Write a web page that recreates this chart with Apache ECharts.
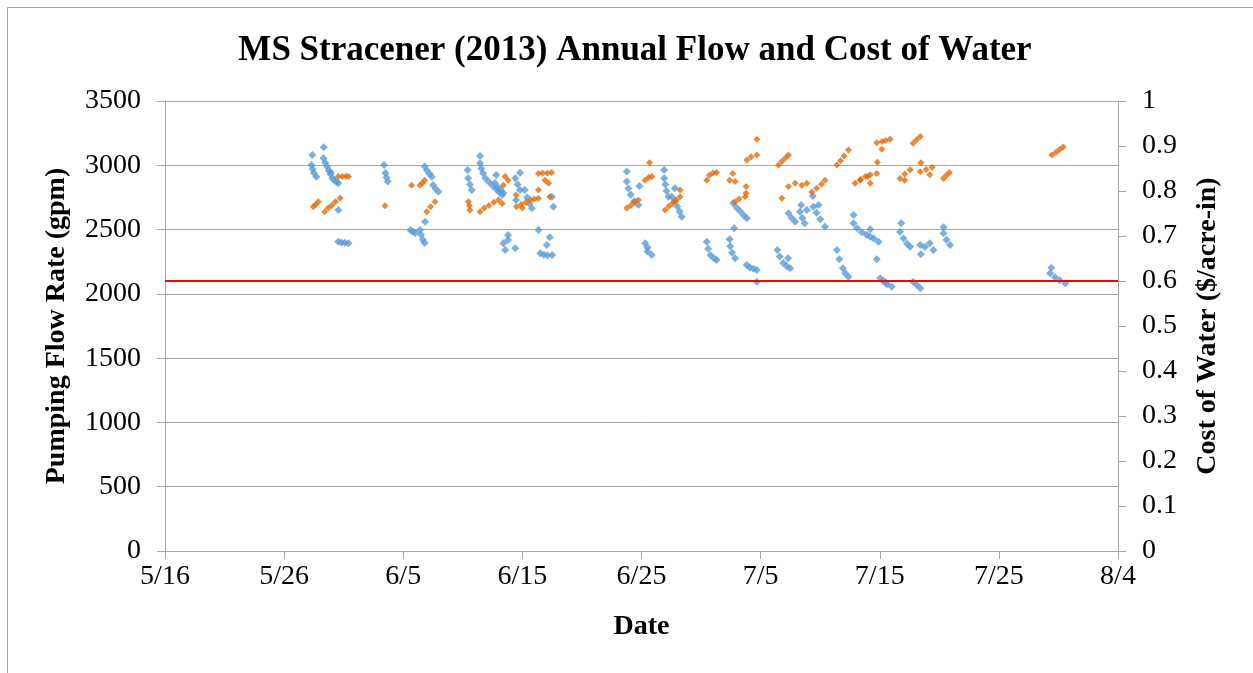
<!DOCTYPE html>
<html>
<head>
<meta charset="utf-8">
<title>MS Stracener (2013) Annual Flow and Cost of Water</title>
<script src="https://cdn.jsdelivr.net/npm/echarts@6/dist/echarts.min.js"></script>
<style>
  html, body { margin: 0; padding: 0; background: #fff; }
  #chart { width: 1253px; height: 673px; }
</style>
</head>
<body>
<div id="chart"></div>
<script>
// x values are days after 5/16/2013
const START = new Date(2013, 4, 16);
const X_MIN = 0, X_MAX = 80, X_STEP = 10;   // 5/16 .. 8/4

// pumping flow rate (gpm), [day, gpm]
const flowRate = [
  [12.37,3080],[13.32,3140],[12.3,3002],[12.4,2970],[12.5,2940],[12.7,2911],
  [13.3,3054],[13.45,3020],[13.6,2990],[13.75,2960],[13.9,2930],[14.05,2900],[14.2,2885],[14.4,2870],[14.55,2860],[13.9,2945],
  [14.55,2652],[14.55,2405],[14.8,2400],[15.1,2398],[15.4,2393],
  [18.39,3002],[18.5,2940],[18.6,2905],[18.7,2873],
  [21.8,2990],[22.0,2960],[22.2,2935],[22.4,2911],[22.5,2847],[22.7,2820],[22.95,2795],
  [21.83,2561],[20.6,2497],[20.8,2485],[21.0,2473],[21.4,2497],[21.5,2460],[21.65,2420],[21.8,2395],
  [26.45,3072],[26.45,3015],[26.55,2975],[26.7,2938],[26.9,2900],[27.2,2870],[27.5,2840],[27.8,2815],[28.0,2795],[28.3,2769],
  [25.4,2963],[25.45,2899],[25.6,2850],[25.75,2808],
  [27.8,2925],[27.7,2862],[27.95,2830],[28.2,2805],[28.4,2785],
  [29.8,2942],[29.4,2900],[29.6,2850],[29.8,2808],[30.2,2808],[30.4,2750],[30.6,2700],[30.8,2665],[29.47,2730],
  [31.35,2497],[32.47,2756],[32.6,2678],
  [28.8,2458],[28.8,2419],[28.4,2393],[28.55,2341],[29.4,2354],
  [32.3,2440],[32.05,2380],[31.5,2315],[31.8,2305],[32.1,2300],[32.5,2302],
  [38.76,2951],[38.76,2873],[38.9,2820],[39.1,2770],[39.4,2720],[39.74,2691],[39.82,2839],
  [40.3,2393],[40.5,2360],[40.86,2302],[40.5,2330],
  [41.9,2963],[41.9,2899],[42.0,2850],[42.1,2800],[42.26,2756],
  [42.54,2756],[42.8,2720],[43.0,2680],[43.2,2640],[43.38,2600],[42.8,2821],
  [45.48,2406],[45.6,2350],[45.8,2300],[46.1,2275],[46.3,2263],
  [47.4,2424],[47.45,2370],[47.6,2320],[47.86,2277],
  [47.7,2704],[48.0,2670],[48.3,2640],[48.6,2610],[48.84,2588],[47.78,2510],
  [48.84,2224],[49.1,2205],[49.4,2195],[49.68,2185],[49.68,2094],
  [51.4,2341],[51.6,2290],[51.9,2240],[52.2,2215],[52.48,2199],[52.3,2277],
  [52.34,2626],[52.6,2590],[52.9,2561],
  [53.4,2691],[53.3,2639],[53.5,2590],[53.7,2549],[53.88,2652],
  [54.38,2761],[54.43,2678],[54.7,2630],[55.0,2580],[55.4,2522],[54.86,2691],
  [56.4,2341],[56.6,2270],[56.9,2200],[57.1,2160],[57.37,2133],
  [57.8,2613],[57.8,2549],[58.1,2510],[58.5,2480],[58.9,2460],[59.2,2445],[59.5,2430],[59.9,2406],[59.2,2502],
  [59.75,2269],
  [60.03,2121],[60.3,2100],[60.5,2090],[60.6,2075],[61.0,2056],
  [61.8,2549],[61.7,2483],[62.0,2430],[62.3,2390],[62.55,2367],
  [63.4,2380],[63.8,2365],[64.2,2393],[64.5,2341],[63.45,2308],
  [62.8,2094],[63.1,2070],[63.4,2043],
  [65.35,2518],[65.35,2471],[65.6,2420],[65.9,2380],
  [74.4,2204],[74.3,2160],[74.7,2130],[75.1,2105],[75.57,2082]
];

// cost of water ($/acre-in), [day, cost]
const waterCost = [
  [12.45,0.765],[12.65,0.77],[12.87,0.776],
  [13.4,0.754],[13.7,0.762],[14.0,0.768],[14.3,0.776],[14.7,0.784],
  [14.55,0.832],[14.9,0.832],[15.2,0.833],[15.4,0.832],
  [18.47,0.767],
  [20.7,0.813],[21.4,0.813],[21.6,0.818],[21.8,0.824],
  [21.97,0.754],[22.3,0.765],[22.67,0.776],
  [25.47,0.776],[25.55,0.767],[25.6,0.758],
  [26.45,0.754],[26.8,0.762],[27.2,0.768],[27.6,0.775],[28.0,0.78],[28.3,0.772],
  [28.55,0.832],[28.8,0.824],[28.4,0.813],[29.47,0.791],
  [29.5,0.765],[29.9,0.77],[30.0,0.762],[30.3,0.775],[30.7,0.78],[31.0,0.782],[31.35,0.784],
  [31.35,0.802],
  [31.35,0.839],[31.7,0.84],[32.1,0.84],[32.45,0.841],
  [31.9,0.824],[32.2,0.817],[32.3,0.787],
  [40.67,0.863],[40.3,0.824],[40.6,0.83],[40.86,0.832],
  [38.76,0.762],[39.1,0.768],[39.4,0.775],[39.74,0.78],
  [41.98,0.758],[42.3,0.766],[42.6,0.773],[42.9,0.78],[43.24,0.787],[43.24,0.802],
  [45.48,0.824],[45.7,0.835],[46.0,0.84],[46.3,0.841],
  [47.4,0.824],
  [49.68,0.915],[48.84,0.869],[49.2,0.876],[49.68,0.88],
  [47.66,0.839],[47.86,0.821],
  [47.86,0.776],[48.2,0.782],[48.7,0.787],[48.78,0.81],[48.78,0.795],
  [51.5,0.858],[51.8,0.866],[52.1,0.874],[52.34,0.88],
  [51.78,0.784],
  [52.34,0.81],[52.9,0.817],
  [53.45,0.813],[53.88,0.817],
  [54.3,0.798],[54.7,0.806],[55.1,0.815],[55.4,0.824],
  [56.4,0.858],[56.7,0.867],[57.0,0.878],[57.37,0.891],
  [57.93,0.817],[58.4,0.826],[58.8,0.832],[59.2,0.836],
  [58.35,0.824],[59.0,0.832],[59.75,0.839],[59.2,0.817],
  [59.75,0.907],[60.2,0.91],[60.5,0.912],[60.87,0.915],[60.17,0.893],[59.8,0.864],
  [62.8,0.906],[63.1,0.914],[63.4,0.921],
  [61.7,0.828],[62.1,0.838],[62.55,0.847],[62.1,0.824],
  [63.45,0.863],[63.4,0.843],[63.9,0.848],[64.4,0.853],[64.2,0.836],
  [65.35,0.828],[65.6,0.835],[65.85,0.841],
  [74.45,0.88],[74.8,0.886],[75.1,0.892],[75.4,0.898]
];

// red reference line on the cost axis
const COST_REF = 0.6;

const FONT = '"Liberation Serif", "Times New Roman", serif';
const GRID = '#a6a6a6';

function dayLabel(v) {
  const d = new Date(START.getTime() + v * 86400000);
  return (d.getMonth() + 1) + '/' + d.getDate();
}

const chart = echarts.init(document.getElementById('chart'), null, { renderer: 'canvas' });

chart.setOption({
  backgroundColor: '#fff',
  animation: false,
  graphic: [{
    type: 'rect', silent: true,
    shape: { x: 7.5, y: 7.5, width: 1300, height: 700 },
    style: { fill: 'none', stroke: '#a0a0a0', lineWidth: 1 }
  }],
  title: {
    text: 'MS Stracener (2013) Annual Flow and Cost of Water',
    left: 630, top: 28, textAlign: 'center',
    textStyle: { fontFamily: FONT, fontSize: 35, fontWeight: 'bold', color: '#000' }
  },
  grid: { left: 165, right: 135, top: 101, bottom: 122 },
  xAxis: {
    type: 'value', min: X_MIN, max: X_MAX, interval: X_STEP,
    name: 'Date', nameLocation: 'middle', nameGap: 62,
    nameTextStyle: { fontFamily: FONT, fontSize: 28, fontWeight: 'bold', color: '#000' },
    axisLine: { show: true, onZero: false, lineStyle: { color: GRID } },
    axisTick: { show: true, length: 8, lineStyle: { color: GRID } },
    axisLabel: { fontFamily: FONT, fontSize: 28, color: '#000', margin: 12, formatter: dayLabel },
    splitLine: { show: false }
  },
  yAxis: [{
    type: 'value', min: 0, max: 3500, interval: 500, position: 'left',
    name: 'Pumping Flow Rate (gpm)', nameLocation: 'middle', nameGap: 94,
    nameTextStyle: { fontFamily: FONT, fontSize: 28, fontWeight: 'bold', color: '#000' },
    axisLine: { show: true, lineStyle: { color: GRID } },
    axisTick: { show: true, length: 8, lineStyle: { color: GRID } },
    axisLabel: { fontFamily: FONT, fontSize: 28, color: '#000', margin: 24,
      formatter: v => String(v) },
    splitLine: { show: true, lineStyle: { color: GRID, width: 1 } }
  }, {
    type: 'value', min: 0, max: 1, interval: 0.1, position: 'right',
    name: 'Cost of Water ($/acre-in)', nameLocation: 'middle', nameGap: 76,
    nameRotate: 90,
    nameTextStyle: { fontFamily: FONT, fontSize: 28, fontWeight: 'bold', color: '#000' },
    axisLine: { show: true, lineStyle: { color: GRID } },
    axisTick: { show: true, length: 8, lineStyle: { color: GRID } },
    axisLabel: { fontFamily: FONT, fontSize: 28, color: '#000', margin: 24,
      formatter: v => (Math.round(v * 10) / 10).toString() },
    splitLine: { show: false }
  }],
  series: [{
    name: 'Flow', type: 'scatter', yAxisIndex: 0,
    symbol: 'diamond', symbolSize: 8,
    itemStyle: { color: '#5B9BD5' },
    data: flowRate
  }, {
    name: 'Cost', type: 'scatter', yAxisIndex: 1,
    symbol: 'diamond', symbolSize: 7,
    itemStyle: { color: '#E36C0A' },
    data: waterCost,
    markLine: {
      silent: true, symbol: 'none', label: { show: false },
      lineStyle: { color: '#ff0000', type: 'solid', width: 2 },
      data: [{ yAxis: COST_REF }]
    }
  }]
});
</script>
</body>
</html>
